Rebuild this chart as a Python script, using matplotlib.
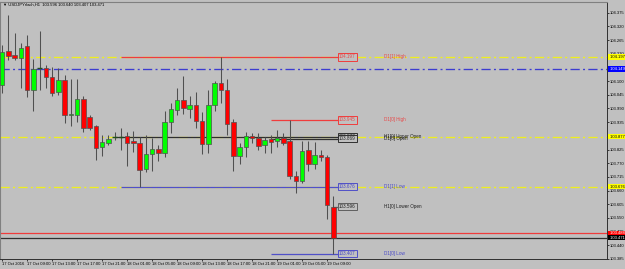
import matplotlib
matplotlib.use("Agg")
from matplotlib import pyplot as plt

# H1 candles, 17 Oct 05:00 .. 19 Oct 10:00
opens = [104.086, 104.222, 104.206, 104.194, 104.242, 104.066, 104.152, 104.154, 104.118, 104.058,
         104.106, 103.962, 103.962, 104.030, 103.954, 103.918, 103.837, 103.853, 103.877, 103.877,
         103.881, 103.861, 103.853, 103.745, 103.809, 103.829, 103.813, 103.934, 103.982, 104.026,
         103.986, 104.002, 103.938, 103.849, 104.006, 104.094, 104.066, 103.934, 103.801, 103.837,
         103.881, 103.873, 103.845, 103.869, 103.861, 103.873, 103.861, 103.717, 103.697, 103.825,
         103.765, 103.805, 103.793, 103.596]
highs = [104.246, 104.366, 104.294, 104.254, 104.286, 104.190, 104.302, 104.166, 104.158, 104.154,
         104.126, 104.110, 104.110, 104.042, 103.962, 103.922, 103.885, 103.885, 103.897, 103.913,
         103.897, 103.901, 103.877, 103.885, 103.873, 103.845, 103.978, 104.014, 104.074, 104.122,
         104.042, 104.058, 103.974, 104.066, 104.102, 104.197, 104.110, 103.946, 103.853, 103.897,
         103.893, 103.893, 103.877, 103.885, 103.905, 103.893, 103.945, 103.737, 103.861, 103.861,
         103.857, 103.825, 103.805, 103.640]
lows = [104.054, 104.186, 104.186, 104.074, 104.038, 103.978, 104.066, 104.074, 104.042, 104.046,
        103.930, 103.918, 103.934, 103.897, 103.905, 103.781, 103.797, 103.845, 103.865, 103.825,
        103.757, 103.817, 103.676, 103.733, 103.737, 103.777, 103.793, 103.893, 103.962, 103.966,
        103.950, 103.913, 103.809, 103.813, 103.978, 104.014, 103.885, 103.737, 103.765, 103.793,
        103.853, 103.825, 103.813, 103.813, 103.837, 103.845, 103.705, 103.649, 103.689, 103.737,
        103.745, 103.777, 103.545, 103.407]
closes = [104.218, 104.202, 104.194, 104.234, 104.066, 104.150, 104.154, 104.118, 104.054, 104.106,
          103.962, 103.966, 104.030, 103.913, 103.913, 103.833, 103.857, 103.869, 103.877, 103.877,
          103.853, 103.853, 103.741, 103.809, 103.829, 103.813, 103.934, 103.986, 104.026, 103.990,
          104.002, 103.938, 103.849, 104.006, 104.094, 104.066, 103.926, 103.801, 103.837, 103.881,
          103.873, 103.841, 103.865, 103.857, 103.873, 103.853, 103.717, 103.697, 103.821, 103.765,
          103.805, 103.793, 103.601, 103.471]

# time axis labels (every 4 bars)
time_labels = ["17 Oct 2016", "17 Oct 09:00", "17 Oct 13:00", "17 Oct 17:00", "17 Oct 21:00",
               "18 Oct 01:00", "18 Oct 05:00", "18 Oct 09:00", "18 Oct 13:00", "18 Oct 17:00",
               "18 Oct 21:00", "19 Oct 01:00", "19 Oct 05:00", "19 Oct 09:00"]

# price axis ticks
price_ticks = [104.375, 104.320, 104.265, 104.210, 104.155, 104.100, 104.045, 103.990, 103.935,
               103.880, 103.825, 103.770, 103.715, 103.660, 103.605, 103.550, 103.495, 103.440, 103.385]

# daily / hourly levels
level_names = ["D1[1] High", "D1[0] High", "H1[0] Upper Open", "D1[0] Open",
               "D1[1] Low", "H1[0] Lower Open", "D1[0] Low"]
level_prices = [104.197, 103.945, 103.877, 103.869, 103.676, 103.596, 103.407]
level_start = [19, 43, 18, 43, 19, 53, 43]
level_colors = ["#f03c3c", "#f03c3c", "#303030", "#303030", "#5050c8", "#606060", "#5050c8"]
level_text_colors = ["#e84848", "#e84848", "#202020", "#202020", "#4848c8", "#202020", "#4848c8"]

# full width horizontal lines
hline_prices = [104.197, 104.149, 103.877, 103.676]
hline_colors = ["#eeee20", "#3c3cd0", "#eeee20", "#eeee20"]
ask_price = 103.488
bid_price = 103.471

FONT = ["Liberation Sans Narrow", "Liberation Sans", "DejaVu Sans"]
FS = 3.0

bg = "#c0c0c0"
W, H = 625, 269
fig = plt.figure(figsize=(W / 100, H / 100), dpi=100, facecolor=bg)
ax = fig.add_axes([0 / W, 1 - 259 / H, 607 / W, 257 / H], facecolor=bg)

ax.set_xlim(-0.32, 96.8)
ax.set_ylim(103.389, 104.418)

# horizontal lines across the chart
for p, c in zip(hline_prices, hline_colors):
    ax.axhline(p, color=c, lw=0.95, dashes=(7, 2.5, 1.5, 2.5), zorder=1)
ax.axhline(ask_price, color="#f03c3c", lw=0.9, zorder=1)
ax.axhline(bid_price, color="#303030", lw=0.9, zorder=1)

# level segments with boxes and names
box_x = 53.9
name_x = 61.1
for name, p, s, c, tc in zip(level_names, level_prices, level_start, level_colors, level_text_colors):
    ax.hlines(p, s, box_x - 0.2, color=c, lw=0.9, zorder=2)
    ax.text(box_x, p, f"{p:.3f}", fontsize=FS + 0.3, family=FONT, color=tc, va="center", ha="left",
            bbox=dict(boxstyle="square,pad=0.3", fc=bg, ec=c, lw=0.7), zorder=5)
    ax.text(name_x, p, name, fontsize=FS + 0.3, family=FONT, color=tc, va="center", ha="left", zorder=5)

# candles
for k in range(len(opens)):
    o, h, l, c = opens[k], highs[k], lows[k], closes[k]
    ax.vlines(k, l, h, color="#505050", lw=0.75, zorder=3)
    up = c >= o
    body = abs(c - o)
    if body < 0.0025:
        ax.hlines((o + c) / 2, k - 0.36, k + 0.36, color="#205020", lw=1.0, zorder=4)
        continue
    ax.bar(k, body, bottom=min(o, c), width=0.72,
           color="#00ff00" if up else "#ff0000", edgecolor="#505050", lw=0.5, zorder=4)

# price axis on the right
ax.yaxis.tick_right()
ax.set_yticks(price_ticks)
ax.set_yticklabels([f"{t:.3f}" for t in price_ticks], fontsize=FS, family=FONT)
ax.tick_params(axis="y", length=1.5, width=0.5, pad=0.8, colors="black")

# highlighted price labels
tag_list = [(104.197, "#ffff00", "black"), (104.149, "#0000ff", "white"),
            (103.877, "#ffff00", "black"), (103.676, "#ffff00", "black"),
            (ask_price, "#ff0000", "white"), (bid_price, "#000000", "white")]
for p, fc, tc in tag_list:
    ax.text(1.003, p, f" {p:.3f}", transform=ax.get_yaxis_transform(), fontsize=FS, family=FONT,
            color=tc, va="center", ha="left", clip_on=False, zorder=6,
            bbox=dict(boxstyle="square,pad=0.15", fc=fc, ec="none"))

# time axis
ax.set_xticks(list(range(0, 4 * len(time_labels), 4)))
ax.set_xticklabels(time_labels, fontsize=FS, family=FONT, ha="left")
ax.tick_params(axis="x", length=1.5, width=0.5, pad=1.0, colors="black")

for side in ["left", "top"]:
    ax.spines[side].set_color("#808080")
    ax.spines[side].set_linewidth(0.8)
for side in ["right", "bottom"]:
    ax.spines[side].set_color("#303030")
    ax.spines[side].set_linewidth(0.7)

fig.text(3 / W, 1 - 5 / H, "\u25bc USDJPYrlach,H1  103.596 103.640 103.407 103.471",
         fontsize=FS, family=FONT, color="black", va="center", ha="left")

fig.savefig("out.png", dpi=100, facecolor=bg)
